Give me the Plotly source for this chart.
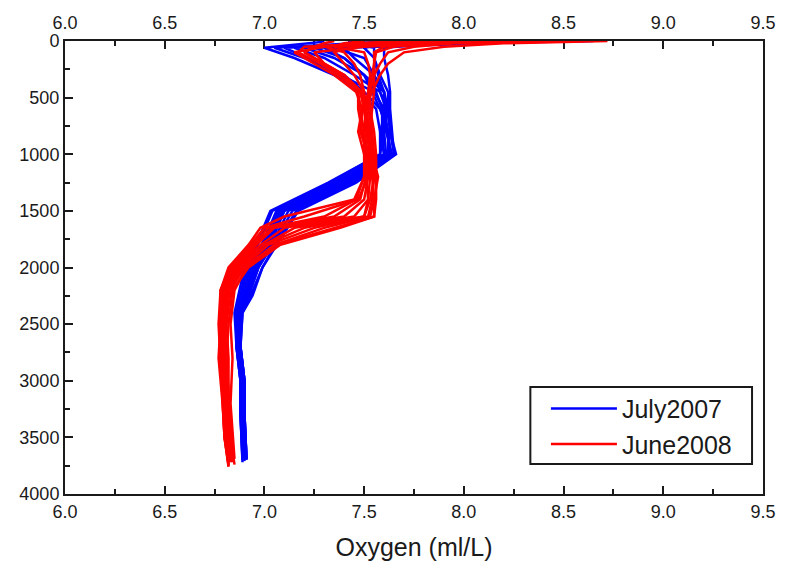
import plotly.graph_objects as go

# Depth levels (m) sampled for each cruise; the deepest level differs per station
depth_2007 = [0, 10, 60, 150, 300, 450, 600, 800, 1000, 1250, 1500, 1750,
              2000, 2250, 2400, 2700, 3000, 3300]
bottom_2007 = [3650, 3700, 3680, 3660, 3690, 3720, 3650, 3700, 3670, 3710, 3660, 3690]

depth_2008 = [0, 20, 50, 100, 200, 300, 450, 600, 800, 1000, 1200, 1400,
              1550, 1650, 1800, 2000, 2200, 2500, 2800, 3200, 3500]
bottom_2008 = [3700, 3750, 3720, 3680, 3740, 3760, 3700, 3730, 3690, 3720, 3750, 3710]

# Oxygen (ml/L): one row per depth level (last row = bottom), one column per station
oxygen_2007 = [
    [7.30, 7.60, 7.90, 8.10, 8.30, 8.50, 8.65, 7.45, 7.75, 8.00, 8.40, 8.20],
    [7.28, 7.55, 7.80, 7.95, 8.10, 8.20, 8.30, 7.42, 7.65, 7.85, 8.10, 7.95],
    [7.00, 7.05, 7.10, 7.15, 7.20, 7.30, 7.40, 7.55, 7.50, 7.25, 7.35, 7.60],
    [7.15, 7.20, 7.22, 7.30, 7.35, 7.40, 7.45, 7.55, 7.55, 7.40, 7.50, 7.60],
    [7.35, 7.38, 7.40, 7.45, 7.50, 7.50, 7.55, 7.58, 7.57, 7.50, 7.55, 7.62],
    [7.48, 7.55, 7.50, 7.58, 7.60, 7.56, 7.60, 7.62, 7.60, 7.54, 7.58, 7.63],
    [7.56, 7.60, 7.58, 7.61, 7.62, 7.59, 7.60, 7.62, 7.61, 7.58, 7.62, 7.63],
    [7.58, 7.60, 7.62, 7.61, 7.63, 7.59, 7.62, 7.63, 7.58, 7.62, 7.60, 7.64],
    [7.60, 7.58, 7.63, 7.64, 7.65, 7.60, 7.62, 7.66, 7.58, 7.63, 7.61, 7.65],
    [7.36, 7.33, 7.40, 7.42, 7.45, 7.35, 7.39, 7.46, 7.32, 7.40, 7.37, 7.43],
    [7.07, 7.04, 7.10, 7.12, 7.16, 7.06, 7.09, 7.17, 7.03, 7.10, 7.08, 7.14],
    [7.01, 6.98, 7.04, 7.05, 7.07, 7.00, 7.03, 7.08, 6.97, 7.03, 7.02, 7.06],
    [6.93, 6.91, 6.96, 6.97, 6.99, 6.92, 6.95, 6.99, 6.90, 6.95, 6.94, 6.97],
    [6.89, 6.88, 6.91, 6.92, 6.94, 6.88, 6.90, 6.93, 6.87, 6.91, 6.90, 6.92],
    [6.87, 6.86, 6.88, 6.88, 6.89, 6.86, 6.87, 6.89, 6.85, 6.88, 6.87, 6.88],
    [6.87, 6.86, 6.88, 6.87, 6.88, 6.86, 6.87, 6.88, 6.86, 6.87, 6.87, 6.88],
    [6.89, 6.88, 6.90, 6.89, 6.90, 6.88, 6.89, 6.90, 6.88, 6.89, 6.89, 6.90],
    [6.89, 6.88, 6.90, 6.90, 6.90, 6.88, 6.89, 6.90, 6.88, 6.89, 6.89, 6.90],
    [6.90, 6.89, 6.91, 6.90, 6.91, 6.89, 6.90, 6.91, 6.89, 6.90, 6.90, 6.91],
]

oxygen_2008 = [
    [8.72, 8.50, 8.30, 8.10, 7.90, 7.70, 7.50, 7.35, 8.60, 8.00, 7.80, 8.40],
    [8.20, 7.90, 7.70, 7.60, 7.50, 7.45, 7.40, 7.30, 7.95, 7.75, 7.60, 7.85],
    [7.90, 7.50, 7.30, 7.20, 7.25, 7.30, 7.35, 7.25, 7.75, 7.60, 7.45, 7.65],
    [7.70, 7.25, 7.15, 7.17, 7.20, 7.40, 7.50, 7.20, 7.62, 7.55, 7.35, 7.56],
    [7.62, 7.30, 7.25, 7.28, 7.30, 7.45, 7.52, 7.30, 7.58, 7.55, 7.40, 7.55],
    [7.58, 7.38, 7.35, 7.37, 7.40, 7.48, 7.53, 7.40, 7.55, 7.54, 7.45, 7.55],
    [7.54, 7.47, 7.46, 7.48, 7.49, 7.50, 7.52, 7.47, 7.53, 7.52, 7.50, 7.55],
    [7.50, 7.47, 7.49, 7.50, 7.51, 7.49, 7.52, 7.48, 7.53, 7.50, 7.51, 7.54],
    [7.52, 7.49, 7.47, 7.52, 7.53, 7.48, 7.54, 7.50, 7.55, 7.51, 7.50, 7.53],
    [7.53, 7.51, 7.50, 7.53, 7.54, 7.52, 7.55, 7.50, 7.56, 7.53, 7.52, 7.54],
    [7.52, 7.50, 7.51, 7.54, 7.57, 7.52, 7.55, 7.50, 7.56, 7.53, 7.51, 7.55],
    [7.50, 7.46, 7.52, 7.55, 7.55, 7.47, 7.54, 7.45, 7.56, 7.52, 7.48, 7.53],
    [7.40, 7.30, 7.50, 7.53, 7.55, 7.20, 7.52, 7.10, 7.55, 7.45, 7.35, 7.50],
    [7.05, 7.02, 7.20, 7.30, 7.38, 7.00, 7.25, 6.98, 7.35, 7.10, 7.04, 7.15],
    [6.96, 6.94, 7.00, 7.05, 7.08, 6.93, 7.02, 6.92, 7.06, 6.98, 6.95, 7.00],
    [6.86, 6.84, 6.88, 6.90, 6.92, 6.83, 6.89, 6.82, 6.91, 6.86, 6.85, 6.87],
    [6.80, 6.79, 6.82, 6.83, 6.84, 6.78, 6.82, 6.78, 6.85, 6.80, 6.79, 6.81],
    [6.79, 6.78, 6.80, 6.81, 6.82, 6.78, 6.80, 6.77, 6.83, 6.79, 6.78, 6.80],
    [6.79, 6.78, 6.80, 6.82, 6.81, 6.77, 6.80, 6.78, 6.84, 6.79, 6.78, 6.81],
    [6.80, 6.79, 6.81, 6.82, 6.82, 6.79, 6.81, 6.79, 6.83, 6.80, 6.80, 6.82],
    [6.81, 6.80, 6.82, 6.83, 6.83, 6.80, 6.82, 6.80, 6.84, 6.81, 6.81, 6.83],
    [6.83, 6.82, 6.84, 6.84, 6.85, 6.82, 6.83, 6.82, 6.85, 6.83, 6.82, 6.84],
]

cruises = [
    ("July2007", depth_2007, bottom_2007, oxygen_2007, "#0000FF"),
    ("June2008", depth_2008, bottom_2008, oxygen_2008, "#FF0000"),
]

x_ticks = [6.0, 6.5, 7.0, 7.5, 8.0, 8.5, 9.0, 9.5]
y_ticks = [0, 500, 1000, 1500, 2000, 2500, 3000, 3500, 4000]

FONT = "Liberation Sans, Arial, sans-serif"
INK = "#1a1a1a"

fig = go.Figure()
for name, depths, bottoms, table, color in cruises:
    stations = list(zip(*table))
    for i, profile in enumerate(stations):
        fig.add_trace(go.Scatter(
            x=list(profile), y=depths + [bottoms[i]], mode="lines",
            line=dict(color=color, width=2.5),
            name=name, legendgroup=name, showlegend=(i == 0),
        ))

# Invisible trace so the top (mirrored) x axis is rendered
fig.add_trace(go.Scatter(x=[None], y=[None], xaxis="x2", showlegend=False,
                         hoverinfo="skip"))

axis_common = dict(
    showgrid=False, zeroline=False, showline=True, linecolor=INK, linewidth=2,
    ticks="inside", ticklen=8, tickwidth=2, tickcolor=INK,
    tickfont=dict(family=FONT, size=18, color=INK),
    layer="below traces",
)
minor_common = dict(ticks="inside", ticklen=5, tickwidth=2, tickcolor=INK)

fig.update_layout(
    width=788, height=572,
    margin=dict(l=65, r=21, t=41, b=78),
    paper_bgcolor="white", plot_bgcolor="white",
    font=dict(family=FONT, color=INK),
    xaxis=dict(
        range=[6.0, 9.5], tickvals=x_ticks,
        ticktext=[f"{v:.1f}" for v in x_ticks],
        minor=dict(dtick=0.25, **minor_common),
        title=dict(text="Oxygen (ml/L)", font=dict(family=FONT, size=25, color=INK),
                   standoff=18),
        **axis_common,
    ),
    xaxis2=dict(
        range=[6.0, 9.5], matches="x", overlaying="x", side="top", anchor="y",
        tickvals=x_ticks, ticktext=[f"{v:.1f}" for v in x_ticks],
        minor=dict(dtick=0.25, **minor_common),
        ticklabelstandoff=3,
        **axis_common,
    ),
    yaxis=dict(
        range=[4000, 0], tickvals=y_ticks, ticktext=[str(v) for v in y_ticks],
        minor=dict(dtick=250, **minor_common),
        mirror=True,
        **axis_common,
    ),
    # Legend entries sit inside a wider framed box drawn as a shape below
    legend=dict(
        x=0.689, y=0.06, xanchor="left", yanchor="bottom",
        bgcolor="rgba(0,0,0,0)", borderwidth=0,
        font=dict(family=FONT, size=25, color=INK),
        itemwidth=66, tracegroupgap=0,
    ),
    shapes=[dict(
        type="rect", xref="x domain", yref="y domain",
        x0=0.6667, x1=0.9843, y0=0.0662, y1=0.2362,
        line=dict(color=INK, width=2), fillcolor="white", layer="above",
    )],
    showlegend=True,
)

fig.write_html("out.html")
